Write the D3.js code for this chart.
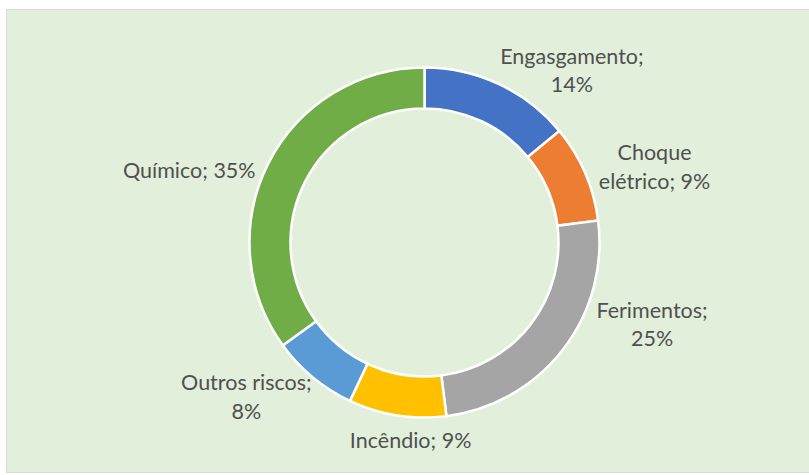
<!DOCTYPE html>
<html>
<head>
<meta charset="utf-8">
<script src="https://cdn.jsdelivr.net/npm/d3@7"></script>
<style>
  html, body { margin: 0; padding: 0; background: #fff; }
</style>
</head>
<body>
<div id="chart"></div>
<script>
// slices, clockwise from 12 o'clock
var categories = ["Engasgamento", "Choque elétrico", "Ferimentos", "Incêndio", "Outros riscos", "Químico"];
var values = [14, 9, 25, 9, 8, 35];
var colors = ["#4472C4", "#ED7D31", "#A5A5A5", "#FFC000", "#5B9BD5", "#70AD47"];

// how each data label is broken into lines
var labelLines = [
    ["Engasgamento;", "14%"],
    ["Choque", "elétrico; 9%"],
    ["Ferimentos;", "25%"],
    ["Incêndio; 9%"],
    ["Outros riscos;", "8%"],
    ["Químico; 35%"]
];
// label placement (polar: degrees from top, distance from centre)
var labelPolar = [[40.7, 226], [71.9, 242], [109.9, 242], [184, 199], [229, 236], [287, 246]];

var w = 809;
var h = 475;
var cx = 424.5, cy = 242.5;
var outerR = 175, innerR = 134;
var lineH = 28.5;

var svg = d3.select("#chart")
    .append("svg")
    .attr("width", w)
    .attr("height", h);

// chart area
svg.append("rect")
    .attr("x", 6.5)
    .attr("y", 9.5)
    .attr("width", w)
    .attr("height", 463)
    .attr("fill", "#E2EFDA")
    .attr("stroke", "#D9D9D9")
    .attr("stroke-width", 1);

var pie = d3.pie().sort(null).value(function(d) { return d; });
var arc = d3.arc().innerRadius(innerR).outerRadius(outerR);
var arcs = pie(values);

var g = svg.append("g").attr("transform", "translate(" + cx + "," + cy + ")");

g.selectAll("path")
    .data(arcs)
    .enter()
    .append("path")
    .attr("d", arc)
    .attr("fill", function(d, i) { return colors[i]; })
    .attr("stroke", "#ffffff")
    .attr("stroke-width", 2.5)
    .attr("stroke-linejoin", "miter");

var labels = g.selectAll("text")
    .data(arcs)
    .enter()
    .append("text")
    .attr("font-family", "Lato, 'Open Sans', sans-serif")
    .attr("font-size", 21.5)
    .attr("fill", "#505050")
    .attr("text-anchor", "middle")
    .attr("transform", function(d, i) {
        var a = labelPolar[i][0] * Math.PI / 180;
        var r = labelPolar[i][1];
        return "translate(" + (Math.sin(a) * r) + "," + (-Math.cos(a) * r) + ")";
    });

labels.each(function(d, i) {
    var lines = labelLines[i];
    var t = d3.select(this);
    var y0 = -(lines.length - 1) * lineH / 2 + 7;
    lines.forEach(function(s, j) {
        t.append("tspan")
            .attr("x", 0)
            .attr("y", y0 + j * lineH)
            .text(s);
    });
});
</script>
</body>
</html>
